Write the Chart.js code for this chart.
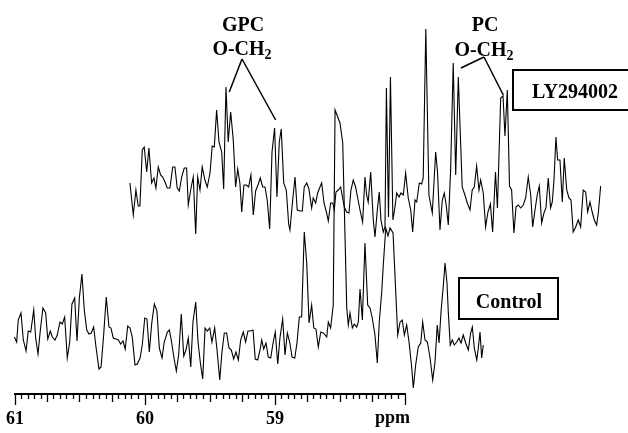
<!DOCTYPE html>
<html>
<head>
<meta charset="utf-8">
<script src="https://cdn.jsdelivr.net/npm/chart.js"></script>
<style>
  body { margin: 0; background: #fff; }
  #wrap { width: 628px; height: 433px; }
</style>
</head>
<body>
<div id="wrap"><canvas id="nmr" width="628" height="433"></canvas></div>
<script>
// ppm axis: labelled positions
const axisLabels = [61, 60, 59];
const rulerFrom = 58, rulerTo = 61;

// Control spectrum (ppm, intensity)
const ctrlPpm = [61.005,60.987,60.975,60.954,60.936,60.915,60.898,60.879,60.856,60.841,60.823,60.805,60.785,60.764,60.748,60.728,60.713,60.692,60.675,60.654,
  60.636,60.618,60.598,60.579,60.562,60.541,60.523,60.505,60.485,60.467,60.448,60.431,60.413,60.395,60.377,60.354,60.338,60.318,60.298,60.277,
  60.262,60.244,60.223,60.205,60.187,60.169,60.152,60.133,60.115,60.098,60.077,60.059,60.038,60.021,60.002,59.985,59.967,59.948,59.928,59.908,
  59.890,59.869,59.852,59.828,59.813,59.798,59.777,59.759,59.741,59.721,59.702,59.685,59.667,59.648,59.631,59.610,59.592,59.575,59.556,59.538,
  59.521,59.502,59.485,59.464,59.446,59.425,59.408,59.390,59.372,59.354,59.336,59.318,59.300,59.282,59.264,59.244,59.226,59.208,59.190,59.169,
  59.152,59.133,59.115,59.102,59.087,59.069,59.052,59.033,59.015,58.998,58.979,58.962,58.941,58.923,58.905,58.887,58.869,58.848,58.831,58.813,
  58.795,58.775,58.756,58.738,58.718,58.702,58.685,58.667,58.648,58.628,58.602,58.590,58.572,58.552,58.538,58.500,58.479,58.448,58.436,58.423,
  58.405,58.390,58.372,58.359,58.346,58.328,58.308,58.287,58.269,58.252,58.231,58.213,58.198,58.179,58.167,58.148,58.131,58.115,58.092,58.056,
  58.038,58.021,58.005,57.987,57.969,57.948,57.936,57.918,57.898,57.879,57.864,57.846,57.828,57.808,57.787,57.769,57.752,57.738,57.723,57.705,
  57.692,57.677,57.667,57.652,57.636,57.621,57.602,57.585,57.569,57.552,57.533,57.513,57.495,57.482,57.467,57.448,57.436,57.423,57.410,57.398];
const ctrlInt = [3,-2,20,27,0,-11,9,8,30,2,-14,10,32,27,1,9,3,0,5,18,
  16,23,-18,-2,36,42,-1,42,66,30,10,6,7,13,-7,-29,-27,5,43,13,
  12,2,1,0,-4,-1,-9,14,12,3,-25,-24,-18,-5,22,21,-12,17,36,29,
  -8,-18,-2,8,10,0,-18,-31,-15,26,-16,-10,2,-27,18,38,-2,-22,-39,12,
  9,12,-2,12,-10,-40,-12,7,7,-8,-10,-19,-12,-20,0,8,-2,9,9,10,
  -19,-20,-10,0,-9,-3,-17,-18,-3,8,-24,2,21,-15,7,-2,-17,-18,-3,23,
  23,108,77,17,35,12,11,-7,8,7,3,18,12,35,230,217,197,32,15,27,
  12,16,13,18,51,20,97,35,32,22,5,-23,18,48,75,112,104,112,107,5,
  18,20,5,15,-2,-28,-48,-25,-7,-3,18,0,-2,-17,-40,-22,15,-3,28,55,
  77,57,28,-5,0,-5,-2,2,-3,5,-3,-10,7,13,-8,-20,-8,8,-18,-5];

// LY294002 spectrum (ppm, intensity)
const lyPpm = [61.008,60.982,60.962,60.944,60.931,60.913,60.898,60.879,60.862,60.841,60.823,60.808,60.790,60.772,60.756,60.738,60.721,60.700,60.679,60.662,
  60.644,60.628,60.610,60.590,60.572,60.559,60.538,60.521,60.502,60.487,60.469,60.452,60.431,60.413,60.392,60.375,60.359,60.341,60.323,60.302,
  60.287,60.269,60.252,60.233,60.213,60.195,60.179,60.162,60.148,60.131,60.113,60.095,60.077,60.059,60.041,60.023,60.005,59.987,59.969,59.952,
  59.933,59.915,59.895,59.877,59.859,59.844,59.825,59.805,59.787,59.777,59.756,59.738,59.721,59.700,59.682,59.667,59.648,59.631,59.610,59.598,
  59.579,59.564,59.546,59.533,59.515,59.495,59.482,59.464,59.448,59.436,59.423,59.405,59.387,59.359,59.341,59.323,59.308,59.290,59.272,59.256,
  59.238,59.218,59.200,59.187,59.175,59.156,59.136,59.123,59.105,59.090,59.077,59.059,59.046,59.035,59.019,59.004,58.985,58.969,58.956,58.938,
  58.923,58.905,58.887,58.867,58.848,58.833,58.815,58.802,58.782,58.764,58.752,58.732,58.708,58.682,58.656,58.642,58.623,58.605,58.590,58.575,
  58.559,58.541,58.521,58.502,58.482,58.452,58.431,58.413,58.392,58.375,58.359,58.341,58.323,58.310,58.290,58.272,58.254,58.235,58.218,58.196,
  58.181,58.156,58.138,58.123,58.105,58.088,58.072,58.054,58.038,58.021,58.002,57.982,57.964,57.944,57.925,57.910,57.892,57.875,57.859,57.841,
  57.823,57.808,57.790,57.772,57.759,57.746,57.731,57.718,57.700,57.682,57.667,57.648,57.631,57.615,57.598,57.579,57.559,57.541,57.521,57.502,
  57.487,57.469,57.452,57.436,57.418,57.405,57.387];
const lyInt = [2,-30,-5,-21,-21,35,38,13,37,2,7,-3,18,10,8,3,-3,-3,18,18,
  -3,-6,8,17,17,-20,-3,8,-49,8,-5,18,5,-2,12,39,38,75,43,33,
  -4,98,43,73,45,-2,16,2,-27,0,0,-2,10,-30,-6,0,7,-2,-2,-15,
  -44,33,57,-12,43,56,2,-5,-39,-45,-15,8,-25,-26,-26,-2,2,-4,-23,-13,
  -18,-8,-2,2,-18,-28,-36,-18,-18,-25,-7,-5,-2,-22,-27,-28,-5,5,-2,-13,
  -25,-37,8,-10,-17,13,-35,-52,-25,-7,-35,-47,-42,97,-32,108,-35,-22,-8,-12,
  -8,-10,12,-13,-25,-47,-15,-17,2,1,7,156,-10,-28,33,13,-45,-15,-8,-20,
  -40,15,122,10,108,-2,-10,-18,-25,-5,-2,19,-5,5,-8,-42,-27,-19,-47,13,
  -23,87,89,49,95,-1,-5,-48,-22,-20,-23,-20,-13,8,-10,-42,-25,-10,-1,-38,
  -28,-23,7,-23,-17,5,48,25,25,-17,27,-5,-13,-15,-47,-42,-35,-42,-5,-7,
  -27,-17,-27,-35,-40,-28,-1];

const toPoints = (xs, ys) => xs.map((x, i) => ({x: x, y: ys[i]}));
const serif = '"Liberation Serif", "Times New Roman", serif';

function och2(ctx, cx, base) {
  ctx.font = 'bold 20px ' + serif;
  const w1 = ctx.measureText('O-CH').width;
  ctx.font = 'bold 14px ' + serif;
  const w2 = ctx.measureText('2').width;
  const x0 = cx - (w1 + w2) / 2;
  ctx.textAlign = 'left';
  ctx.font = 'bold 20px ' + serif;
  ctx.fillText('O-CH', x0, base);
  ctx.font = 'bold 14px ' + serif;
  ctx.fillText('2', x0 + w1, base + 4);
}

// labels, pointer lines, boxes and the ppm unit
const notes = {
  id: 'notes',
  afterDraw(chart) {
    const {ctx, scales} = chart;
    const at = (p, v) => [scales.xLY.getPixelForValue(p), scales.yLY.getPixelForValue(v)];
    ctx.save();
    ctx.fillStyle = '#000';
    ctx.strokeStyle = '#000';
    ctx.textBaseline = 'alphabetic';

    ctx.font = 'bold 20px ' + serif;
    ctx.textAlign = 'center';
    ctx.fillText('GPC', 243, 31);
    ctx.fillText('PC', 485, 31);
    och2(ctx, 242, 55);
    och2(ctx, 484, 56);

    ctx.lineWidth = 1.5;
    const pointer = (ax, ay, tips) => {
      tips.forEach(t => {
        const [px, py] = at(t[0], t[1]);
        ctx.beginPath(); ctx.moveTo(ax, ay); ctx.lineTo(px, py); ctx.stroke();
      });
    };
    pointer(242, 59, [[60.244, 93], [59.887, 65]]);
    pointer(484, 57, [[58.462, 117], [58.136, 90]]);

    ctx.lineWidth = 2;
    ctx.strokeRect(513, 70, 130, 40);
    ctx.strokeRect(459, 278, 99, 41);
    ctx.font = 'bold 20px ' + serif;
    ctx.textAlign = 'center';
    ctx.fillText('LY294002', 575, 98);
    ctx.fillText('Control', 509, 308);

    const xs = scales.x;
    ctx.font = 'bold 18px ' + serif;
    ctx.textAlign = 'right';
    ctx.textBaseline = 'top';
    ctx.fillText('ppm', xs.right + 5, xs.top + 15);
    ctx.restore();
  }
};

function tickKind(v) {
  const k = Math.round(v * 20);
  if (k % 20 === 0) return 'long';
  if (k % 5 === 0) return 'mid';
  return 'short';
}

new Chart(document.getElementById('nmr'), {
  type: 'line',
  data: {
    datasets: [
      {label: 'Control', data: toPoints(ctrlPpm, ctrlInt), xAxisID: 'x', yAxisID: 'y',
        borderColor: '#000', borderWidth: 1.1, pointRadius: 0, tension: 0, clip: false},
      {label: 'LY294002', data: toPoints(lyPpm, lyInt), xAxisID: 'xLY', yAxisID: 'yLY',
        borderColor: '#000', borderWidth: 1.1, pointRadius: 0, tension: 0, clip: false}
    ]
  },
  options: {
    responsive: false,
    animation: false,
    devicePixelRatio: 1,
    layout: {padding: {left: 15, right: 223, top: 0, bottom: 0}},
    plugins: {legend: {display: false}, tooltip: {enabled: false}},
    scales: {
      x: {
        type: 'linear', reverse: true, min: rulerFrom, max: rulerTo,
        afterBuildTicks: s => {
          const t = [];
          for (let k = rulerFrom * 20; k <= rulerTo * 20; k++) t.push({value: k / 20});
          s.ticks = t;
        },
        afterFit: s => { s.height = 39; },
        border: {display: true, color: '#000', width: 2},
        grid: {
          drawOnChartArea: false, drawTicks: true, tickLength: 11, color: '#000', tickWidth: 1.3,
          tickBorderDash: c => {
            const kind = tickKind(c.tick.value);
            return kind === 'long' ? [] : kind === 'mid' ? [7, 40] : [4, 40];
          }
        },
        ticks: {
          autoSkip: false, maxRotation: 0, minRotation: 0, padding: 4, color: '#000',
          font: {family: serif, size: 18, weight: 'bold'},
          callback: v => axisLabels.includes(Math.round(v * 20) / 20) ? String(Math.round(v)) : ''
        }
      },
      xLY: {type: 'linear', reverse: true, min: 58.892, max: 61.892, display: false},
      y: {type: 'linear', min: -54, max: 340, display: false},
      yLY: {type: 'linear', min: -209, max: 185, display: false}
    }
  },
  plugins: [notes]
});
</script>
</body>
</html>
